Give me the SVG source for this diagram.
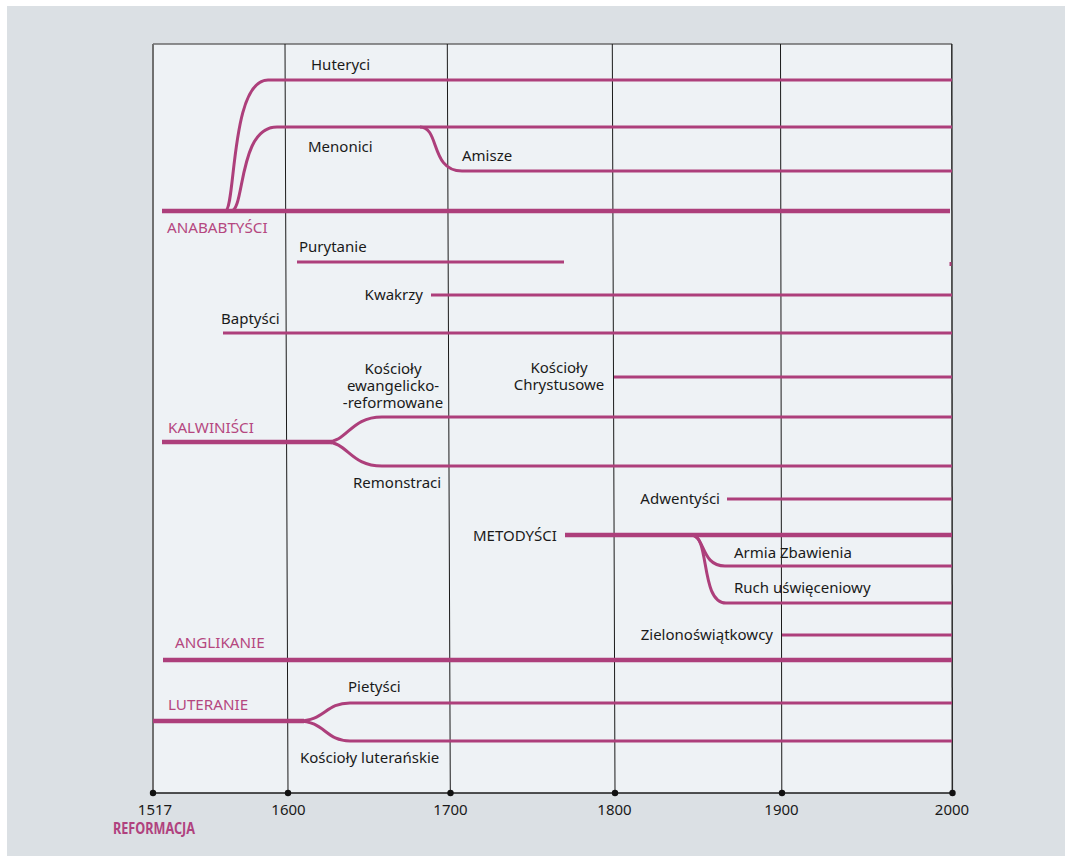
<svg xmlns="http://www.w3.org/2000/svg" width="1065" height="856" viewBox="0 0 1065 856">
<style>
.t{font-family:"Noto Sans","Open Sans",sans-serif;font-size:15px;fill:#1a1a1a}
.m{font-family:"Noto Sans","Open Sans",sans-serif;font-size:15.2px;fill:#b5477f}
.y{font-family:"Noto Sans","Open Sans",sans-serif;font-size:15px;fill:#1a1a1a;text-anchor:middle}
.b{fill:none;stroke:#ad3f7b;stroke-width:3;stroke-linecap:butt}
.k{fill:none;stroke:#ad3f7b;stroke-width:4.5;stroke-linecap:butt}
.g{stroke:#1a1a1a;stroke-width:1}
</style>
<rect x="0" y="0" width="1065" height="856" fill="#ffffff"/>
<rect x="7" y="6" width="1058" height="850" fill="#dbe0e4"/>
<rect x="153" y="44" width="799" height="749" fill="#eef2f5"/>
<g id="grid">
<line x1="153" y1="44" x2="952" y2="44" stroke="#6b6b6b" stroke-width="1.5"/>
<line x1="153" y1="44" x2="153" y2="793" stroke="#707070" stroke-width="2"/>
<line x1="951.8" y1="44" x2="952.3" y2="793" stroke="#2a2a2a" stroke-width="1.5"/>
<line class="g" x1="285" y1="44" x2="288" y2="793"/>
<line class="g" x1="447.3" y1="44" x2="450.3" y2="793"/>
<line class="g" x1="612.3" y1="44" x2="615" y2="793"/>
<line class="g" x1="780.5" y1="44" x2="781.8" y2="793"/>
<line x1="153" y1="793" x2="952" y2="793" stroke="#1a1a1a" stroke-width="1.5"/>
</g>
<g id="axis">
<circle cx="153" cy="793" r="3.2" fill="#111"/>
<circle cx="288" cy="793" r="3.2" fill="#111"/>
<circle cx="450.5" cy="793" r="3.2" fill="#111"/>
<circle cx="615" cy="793" r="3.2" fill="#111"/>
<circle cx="782" cy="793" r="3.2" fill="#111"/>
<circle cx="952.5" cy="793" r="3.2" fill="#111"/>
<text class="y" x="155" y="815">1517</text>
<text class="y" x="288.5" y="815">1600</text>
<text class="y" x="450.5" y="815">1700</text>
<text class="y" x="614.5" y="815">1800</text>
<text class="y" x="781.5" y="815">1900</text>
<text class="y" x="952" y="815">2000</text>
<text x="113" y="834" font-family="'Noto Sans','Open Sans',sans-serif" font-size="16" font-weight="bold" fill="#b0427e" textLength="82" lengthAdjust="spacingAndGlyphs">REFORMACJA</text>
</g>
<g id="connectors">
<path class="k" d="M162,211 L950,211"/>
<path class="b" d="M225,211 C236,211 230,80 268,80 L952,80"/>
<path class="b" d="M231,211 C245,211 238,127 277,127 L952,127"/>
<path class="b" d="M420,127 C440,127 430,171 462,171 L952,171"/>
<path class="b" d="M297,262 L564,262"/>
<rect x="949.5" y="262" width="2" height="4" fill="#ad3f7b"/>
<path class="b" d="M431,295 L952,295"/>
<path class="b" d="M223,333 L952,333"/>
<path class="b" d="M614,377 L952,377"/>
<path class="k" d="M162,442 L332,442"/>
<path class="b" d="M326,442 C348,442 350,417 382,417 L952,417"/>
<path class="b" d="M326,442 C348,442 350,466 382,466 L952,466"/>
<path class="b" d="M727,499 L952,499"/>
<path class="k" d="M565,535 L952,535"/>
<path class="b" d="M690,535 C706,535 700,566 725,566 L952,566"/>
<path class="b" d="M692,535 C710,535 700,603 726,603 L952,603"/>
<path class="b" d="M782,635 L952,635"/>
<path class="k" d="M163,660 L952,660"/>
<path class="k" d="M153,721 L304,721"/>
<path class="b" d="M298,721 C325,721 325,703 350,703 L952,703"/>
<path class="b" d="M298,721 C325,721 325,741 350,741 L952,741"/>
</g>
<g id="anabaptysci"><text class="m" x="167" y="233">ANABABTYŚCI</text></g>
<g id="huteryci"><text class="t" x="311" y="70">Huteryci</text></g>
<g id="menonici"><text class="t" x="308" y="152">Menonici</text></g>
<g id="amisze"><text class="t" x="462" y="161">Amisze</text></g>
<g id="purytanie"><text class="t" x="299" y="252">Purytanie</text></g>
<g id="kwakrzy"><text class="t" x="423" y="300" text-anchor="end">Kwakrzy</text></g>
<g id="baptysci"><text class="t" x="221" y="324">Baptyści</text></g>
<g id="koscioly-chrystusowe"><text class="t" text-anchor="middle"><tspan x="559" y="373">Kościoły</tspan><tspan x="559" y="390">Chrystusowe</tspan></text></g>
<g id="ewangelicko-reformowane"><text class="t" text-anchor="middle"><tspan x="393" y="374">Kościoły</tspan><tspan x="393" y="391">ewangelicko-</tspan><tspan x="393" y="408">-reformowane</tspan></text></g>
<g id="kalwinisci"><text class="m" x="168" y="433">KALWINIŚCI</text></g>
<g id="remonstraci"><text class="t" x="353" y="488">Remonstraci</text></g>
<g id="adwentysci"><text class="t" x="720" y="504" text-anchor="end">Adwentyści</text></g>
<g id="metodysci"><text class="t" x="473" y="541">METODYŚCI</text></g>
<g id="armia-zbawienia"><text class="t" x="734" y="558">Armia Zbawienia</text></g>
<g id="ruch-uswieceniowy"><text class="t" x="734" y="593">Ruch uświęceniowy</text></g>
<g id="zielonoswiatkowcy"><text class="t" x="773" y="640" text-anchor="end">Zielonoświątkowcy</text></g>
<g id="anglikanie"><text class="m" x="175" y="648">ANGLIKANIE</text></g>
<g id="luteranie"><text class="m" x="168" y="710">LUTERANIE</text></g>
<g id="pietysci"><text class="t" x="348" y="692">Pietyści</text></g>
<g id="koscioly-luteranskie"><text class="t" x="300" y="763">Kościoły luterańskie</text></g>
</svg>
